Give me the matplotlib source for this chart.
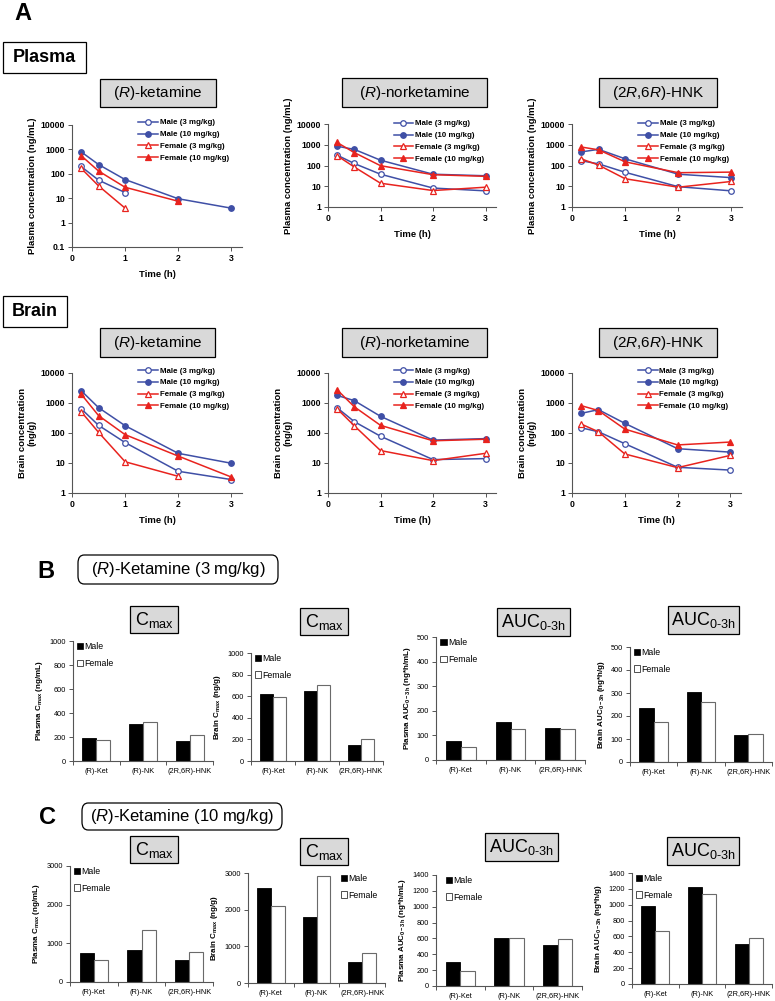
import matplotlib
matplotlib.use('Agg')
import numpy as np
import matplotlib.pyplot as plt
from matplotlib.patches import FancyBboxPatch, Patch
from matplotlib.ticker import FuncFormatter, NullLocator

plt.rcParams['font.family'] = ['Liberation Sans', 'DejaVu Sans']
plt.rcParams['mathtext.fontset'] = 'custom'
plt.rcParams['mathtext.rm'] = 'Liberation Sans'
plt.rcParams['mathtext.it'] = 'Liberation Sans:italic'
plt.rcParams['mathtext.bf'] = 'Liberation Sans:bold'

W, H = 775, 1001

# ---- time course data ----
time = [0.17, 0.5, 1, 2, 3]
series_names = ['Male (3 mg/kg)', 'Male (10 mg/kg)', 'Female (3 mg/kg)', 'Female (10 mg/kg)']

# plasma (ng/mL)
pl_ket_m3 = [200, 55, 17]
pl_ket_m10 = [800, 240, 58, 9.5, 3.9]
pl_ket_f3 = [170, 32, 3.9]
pl_ket_f10 = [560, 130, 28, 7.5]

pl_nk_m3 = [320, 125, 38, 8.2, 6]
pl_nk_m10 = [850, 600, 180, 38, 32]
pl_nk_f3 = [300, 85, 14, 6.2, 9]
pl_nk_f10 = [1300, 420, 98, 36, 30]

pl_hnk_m3 = [170, 120, 47, 9.5, 6]
pl_hnk_m10 = [450, 600, 210, 38, 26]
pl_hnk_f3 = [210, 105, 23, 9, 17]
pl_hnk_f10 = [780, 570, 150, 45, 48]

# brain (ng/g)
br_ket_m3 = [650, 180, 48, 5.3, 2.8]
br_ket_m10 = [2600, 700, 175, 21, 9.8]
br_ket_f3 = [520, 105, 11, 3.6]
br_ket_f10 = [2000, 380, 88, 17, 3.4]

br_nk_m3 = [700, 240, 78, 13, 14]
br_nk_m10 = [1800, 1200, 360, 58, 65]
br_nk_f3 = [650, 175, 26, 12, 21]
br_nk_f10 = [2800, 750, 180, 55, 62]

br_hnk_m3 = [150, 110, 44, 7.2, 5.8]
br_hnk_m10 = [450, 600, 210, 30, 23]
br_hnk_f3 = [200, 110, 20, 7, 18]
br_hnk_f10 = [820, 560, 135, 40, 50]

# ---- PK parameter data ----
compounds = ['(R)-Ket', '(R)-NK', '(2R,6R)-HNK']
# 3 mg/kg
b_pl_cmax_male = [195, 310, 165]
b_pl_cmax_female = [175, 325, 215]
b_br_cmax_male = [625, 645, 145]
b_br_cmax_female = [590, 705, 205]
b_pl_auc_male = [78, 155, 130]
b_pl_auc_female = [52, 125, 128]
b_br_auc_male = [233, 305, 118]
b_br_auc_female = [172, 260, 122]
# 10 mg/kg
c_pl_cmax_male = [750, 840, 570]
c_pl_cmax_female = [570, 1340, 780]
c_br_cmax_male = [2580, 1810, 580]
c_br_cmax_female = [2100, 2930, 820]
c_pl_auc_male = [300, 610, 520]
c_pl_auc_female = [195, 600, 590]
c_br_auc_male = [980, 1220, 505]
c_br_auc_female = [670, 1140, 575]

BLUE = '#3f4fa6'
RED = '#e8231e'

fig = plt.figure(figsize=(W / 100, H / 100), dpi=100)


def add_ax(x0, y0, x1, y1):
    return fig.add_axes([x0 / W, 1 - y1 / H, (x1 - x0) / W, (y1 - y0) / H])


def box(x0, y0, x1, y1, text, fs, fc='#d9d9d9', weight='normal', rounded=False):
    style = 'round,pad=0,rounding_size=0.008' if rounded else 'square,pad=0'
    p = FancyBboxPatch((x0 / W, 1 - y1 / H), (x1 - x0) / W, (y1 - y0) / H,
                       boxstyle=style, transform=fig.transFigure,
                       fc=fc, ec='black', lw=0.9)
    fig.patches.append(p)
    fig.text((x0 + x1) / 2 / W, 1 - (y0 + y1) / 2 / H, text,
             ha='center', va='center', fontsize=fs, weight=weight)


def line_panel(rect, series, ylim, ylabel):
    ax = add_ax(*rect)
    styles = [(BLUE, 'o', False), (BLUE, 'o', True), (RED, '^', False), (RED, '^', True)]
    for vals, name, (col, mk, filled) in zip(series, series_names, styles):
        ax.plot(time[:len(vals)], vals, color=col, marker=mk, ms=4 if mk == 'o' else 4.5,
                mfc=col if filled else 'white', mec=col, mew=0.9, lw=1.1, label=name)
    ax.set_yscale('log')
    ax.set_ylim(*ylim)
    lo, hi = int(np.log10(ylim[0])), int(np.log10(ylim[1]))
    ax.set_yticks([10.0 ** k for k in range(lo, hi + 1)])
    ax.set_xlim(0, 3.2)
    ax.set_xticks([0, 1, 2, 3])
    ax.yaxis.set_minor_locator(NullLocator())
    ax.yaxis.set_major_formatter(FuncFormatter(lambda v, p: f'{v:g}'))
    for s in ['top', 'right']:
        ax.spines[s].set_visible(False)
    for s in ['left', 'bottom']:
        ax.spines[s].set_color('#555555')
        ax.spines[s].set_linewidth(0.8)
    ax.tick_params(labelsize=6.2, length=3, width=0.7, color='#555555', pad=2)
    for lab in ax.get_xticklabels() + ax.get_yticklabels():
        lab.set_fontweight('bold')
    ax.set_xlabel('Time (h)', fontsize=6.8, weight='bold', labelpad=5)
    ax.set_ylabel(ylabel, fontsize=6.8, weight='bold', labelpad=3, linespacing=1.1)
    ax.legend(loc='upper left', bbox_to_anchor=(0.39, 1.05), frameon=False,
              prop={'weight': 'bold', 'size': 5.7}, handlelength=2.5,
              handletextpad=0.2, labelspacing=0.55, borderpad=0, borderaxespad=0)
    return ax


def bar_panel(rect, male, female, ymax, ystep, ylabel, leg_x=0.03):
    ax = add_ax(*rect)
    x = np.arange(len(compounds))
    ax.bar(x - 0.15, male, 0.3, color='black', edgecolor='black', lw=0.6, label='Male')
    ax.bar(x + 0.15, female, 0.3, color='white', edgecolor='#6a6a6a', lw=0.8, label='Female')
    ax.set_xlim(-0.5, 2.5)
    ax.set_ylim(0, ymax)
    ax.set_yticks(np.arange(0, ymax + 1, ystep))
    ax.set_xticks(x, compounds)
    ax.set_xticks([-0.5, 0.5, 1.5, 2.5], minor=True)
    ax.tick_params(axis='x', which='major', length=0, labelsize=5.3, pad=5)
    ax.tick_params(axis='x', which='minor', length=3, width=0.7, color='#555555')
    ax.tick_params(axis='y', labelsize=5.3, length=3, width=0.7, color='#555555', pad=2)
    for s in ['top', 'right']:
        ax.spines[s].set_visible(False)
    for s in ['left', 'bottom']:
        ax.spines[s].set_color('#555555')
        ax.spines[s].set_linewidth(0.8)
    ax.set_ylabel(ylabel, fontsize=5.8, weight='bold', labelpad=3)
    handles = [Patch(fc='black', ec='black', lw=0.5), Patch(fc='white', ec='#333333', lw=0.6)]
    ax.legend(handles, ['Male', 'Female'], loc='upper left', bbox_to_anchor=(leg_x, 0.99),
              frameon=False, fontsize=6.3, handlelength=0.7, handleheight=0.7,
              handletextpad=0.15, labelspacing=0.85, borderpad=0, borderaxespad=0)
    return ax


# ---- section A ----
fig.text(14 / W, 1 - 14 / H, 'A', fontsize=17, weight='bold', va='center', ha='left')
box(3, 42, 86, 73, 'Plasma', 13, fc='white', weight='bold')
box(3, 296, 67, 327, 'Brain', 13, fc='white', weight='bold')

box(100, 79, 216, 107, r'($\mathit{R}$)-ketamine', 11)
box(342, 78, 487, 107, r'($\mathit{R}$)-norketamine', 11)
box(599, 78, 717, 107, r'(2$\mathit{R}$,6$\mathit{R}$)-HNK', 11)
box(100, 328, 215, 357, r'($\mathit{R}$)-ketamine', 11)
box(342, 328, 487, 357, r'($\mathit{R}$)-norketamine', 11)
box(599, 328, 717, 357, r'(2$\mathit{R}$,6$\mathit{R}$)-HNK', 11)

pl_label = 'Plasma concentration (ng/mL)'
br_label = 'Brain concentration\n(ng/g)'
line_panel((72, 125, 242, 247), [pl_ket_m3, pl_ket_m10, pl_ket_f3, pl_ket_f10], (0.1, 10000), pl_label)
line_panel((328, 124, 496, 207), [pl_nk_m3, pl_nk_m10, pl_nk_f3, pl_nk_f10], (1, 10000), pl_label)
line_panel((572, 124, 742, 207), [pl_hnk_m3, pl_hnk_m10, pl_hnk_f3, pl_hnk_f10], (1, 10000), pl_label)
line_panel((72, 373, 242, 493), [br_ket_m3, br_ket_m10, br_ket_f3, br_ket_f10], (1, 10000), br_label)
line_panel((328, 373, 496, 493), [br_nk_m3, br_nk_m10, br_nk_f3, br_nk_f10], (1, 10000), br_label)
line_panel((572, 373, 741, 493), [br_hnk_m3, br_hnk_m10, br_hnk_f3, br_hnk_f10], (1, 10000), br_label)

# ---- section B ----
cmax_t = r'C$_{\mathregular{max}}$'
auc_t = r'AUC$_{\mathregular{0\text{-}3h}}$'
fig.text(37 / W, 1 - 572 / H, 'B', fontsize=17, weight='bold', va='center', ha='left')
box(78, 555, 278, 584, r'($\mathit{R}$)-Ketamine (3 mg/kg)', 12, fc='white', rounded=True)
box(130, 606, 178, 633, cmax_t, 13)
box(300, 608, 348, 635, cmax_t, 13)
box(497, 608, 570, 636, auc_t, 13)
box(668, 606, 739, 634, auc_t, 13)
bar_panel((73, 641, 213, 761), b_pl_cmax_male, b_pl_cmax_female, 1000, 200, r'Plasma C$_{\mathregular{max}}$ (ng/mL)')
bar_panel((251, 653, 383, 761), b_br_cmax_male, b_br_cmax_female, 1000, 200, r'Brain C$_{\mathregular{max}}$ (ng/g)')
bar_panel((436, 637, 585, 760), b_pl_auc_male, b_pl_auc_female, 500, 100, r'Plasma AUC$_{\mathregular{0-3h}}$ (ng*h/mL)')
bar_panel((630, 647, 772, 762), b_br_auc_male, b_br_auc_female, 500, 100, r'Brain AUC$_{\mathregular{0-3h}}$ (ng*h/g)')

# ---- section C ----
fig.text(39 / W, 1 - 817 / H, 'C', fontsize=17, weight='bold', va='center', ha='left')
box(82, 803, 282, 830, r'($\mathit{R}$)-Ketamine (10 mg/kg)', 12, fc='white', rounded=True)
box(130, 836, 178, 863, cmax_t, 13)
box(300, 838, 348, 865, cmax_t, 13)
box(485, 833, 558, 861, auc_t, 13)
box(667, 837, 739, 865, auc_t, 13)
bar_panel((70, 866, 213, 982), c_pl_cmax_male, c_pl_cmax_female, 3000, 1000, r'Plasma C$_{\mathregular{max}}$ (ng/mL)')
bar_panel((248, 873, 385, 983), c_br_cmax_male, c_br_cmax_female, 3000, 1000, r'Brain C$_{\mathregular{max}}$ (ng/g)', leg_x=0.68)
bar_panel((436, 875, 582, 986), c_pl_auc_male, c_pl_auc_female, 1400, 200, r'Plasma AUC$_{\mathregular{0-3h}}$ (ng*h/mL)', leg_x=0.07)
bar_panel((632, 873, 772, 984), c_br_auc_male, c_br_auc_female, 1400, 200, r'Brain AUC$_{\mathregular{0-3h}}$ (ng*h/g)')

fig.savefig('out.png', dpi=100)
